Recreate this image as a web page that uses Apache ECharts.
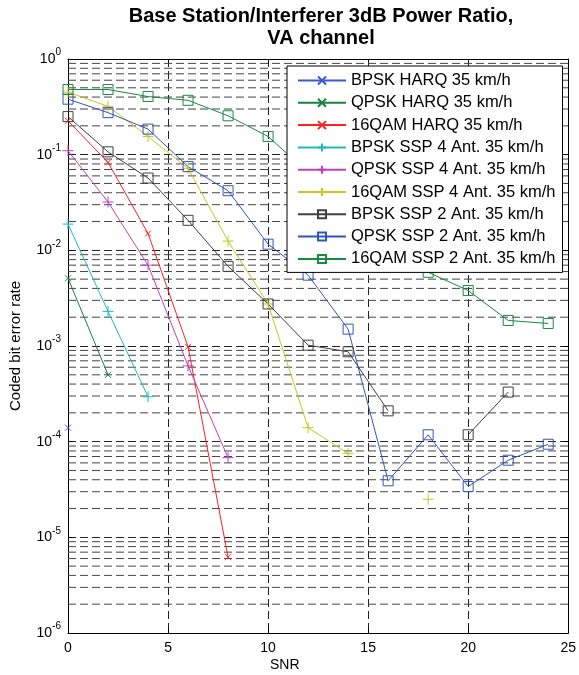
<!DOCTYPE html>
<html>
<head>
<meta charset="utf-8">
<script src="https://cdn.jsdelivr.net/npm/echarts@6/dist/echarts.min.js"></script>
<style>
html,body{margin:0;padding:0;background:#fff;}
#c{width:579px;height:675px;}
</style>
</head>
<body>
<div id="c"></div>
<script>
// ---- data ----
var snr = [0, 2, 4, 6, 8, 10, 12, 14, 16, 18, 20, 22, 24];
var bpskHarq  = [1.4e-4];
var qpskHarq  = [5.1e-3, 5.0e-4];
var qam16Harq = [0.226, 0.083, 0.015, 9.8e-4, 6.2e-6];
var bpskSsp4  = [0.0188, 2.3e-3, 2.95e-4];
var qpskSsp4  = [0.11, 0.032, 7.0e-3, 6.2e-4, 6.8e-5];
var qam16Ssp4 = [0.45, 0.32, 0.155, 0.072, 0.0125, 2.75e-3, 1.4e-4, 7.5e-5, null, 2.5e-5];
var bpskSsp2  = [0.25, 0.107, 0.057, 0.0206, 6.8e-3, 2.75e-3, 1.02e-3, 8.7e-4, 2.1e-4, null, 1.18e-4, 3.3e-4];
var qpskSsp2  = [0.38, 0.275, 0.185, 0.075, 0.042, 0.0116, 5.5e-3, 1.5e-3, 3.9e-5, 1.18e-4, 3.4e-5, 6.4e-5, 9.4e-5];
var qam16Ssp2 = [0.48, 0.48, 0.405, 0.37, 0.255, 0.155, 0.065, 0.03, 0.013, 5.9e-3, 3.8e-3, 1.85e-3, 1.72e-3];
var seriesNames = ['BPSK HARQ 35 km/h','QPSK HARQ 35 km/h','16QAM HARQ 35 km/h',
  'BPSK SSP 4 Ant. 35 km/h','QPSK SSP 4 Ant. 35 km/h','16QAM SSP 4 Ant. 35 km/h',
  'BPSK SSP 2 Ant. 35 km/h','QPSK SSP 2 Ant. 35 km/h','16QAM SSP 2 Ant. 35 km/h'];
var xTicks = [0, 5, 10, 15, 20, 25];
var xRange = [0, 25];
var minorMultipliers = [2, 3, 4, 5, 6, 7, 8, 9];
var decades = [-6, -5, -4, -3, -2, -1];

// ---- styles ----
var CROSS = 'path://M0,0L10,10M10,0L0,10';
var PLUS = 'path://M5,0L5,10M0,5L10,5';
var styles = [
  {c:'#3a5ad0', s:CROSS, z:6},
  {c:'#1a8040', s:CROSS, z:6},
  {c:'#ff2020', s:CROSS, z:6},
  {c:'#20bcbc', s:PLUS, z:11},
  {c:'#c040c0', s:PLUS, z:11},
  {c:'#c8c820', s:PLUS, z:11},
  {c:'#404040', s:'rect', z:10},
  {c:'#3355bb', s:'rect', z:10},
  {c:'#1a8a40', s:'rect', z:10}
];
var allData = [bpskHarq, qpskHarq, qam16Harq, bpskSsp4, qpskSsp4, qam16Ssp4, bpskSsp2, qpskSsp2, qam16Ssp2];

function pairs(arr){
  return arr.map(function(v,i){ return [snr[i], v == null ? '-' : v]; });
}

var series = [];
// minor grid lines (log decades 2..9) as thin dashed helper lines
decades.forEach(function(d){
  minorMultipliers.forEach(function(m){
    var v = m * Math.pow(10, d);
    series.push({
      name: 'minor', type: 'line', silent: true, showSymbol: false, symbol: 'none',
      data: [[xRange[0], v], [xRange[1], v]],
      lineStyle: {color: '#444', width: 1, type: [8, 4]},
      emphasis: {disabled: true}, animation: false, z: 1, clip: true
    });
  });
});

allData.forEach(function(arr, k){
  var st = styles[k];
  series.push({
    name: seriesNames[k],
    type: 'line',
    data: pairs(arr),
    connectNulls: false,
    symbol: st.s,
    symbolSize: st.z,
    showSymbol: true,
    symbolKeepAspect: true,
    lineStyle: {color: st.c, width: 1},
    itemStyle: {color: 'rgba(0,0,0,0)', borderColor: st.c, borderWidth: 1},
    emphasis: {disabled: true},
    animation: false,
    z: 2
  });
});

var FONT = 'Liberation Sans, Arial, sans-serif';
var chart = echarts.init(document.getElementById('c'), null, {renderer: 'canvas'});
chart.setOption({
  backgroundColor: '#fff',
  animation: false,
  textStyle: {fontFamily: FONT},
  title: {
    text: 'Base Station/Interferer 3dB Power Ratio,\nVA channel',
    left: 316, top: 0, textAlign: 'center',
    textStyle: {fontSize: 20, fontWeight: 'bold', color: '#000', lineHeight: 22, fontFamily: FONT}
  },
  grid: {left: 66, right: 8, top: 59, bottom: 42, containLabel: false},
  legend: {
    data: seriesNames,
    orient: 'vertical',
    left: 287, top: 66,
    padding: [6, 7, 5, 10],
    itemWidth: 48, itemHeight: 10, itemGap: 5.3,
    backgroundColor: '#fff',
    borderColor: '#000', borderWidth: 1,
    selectedMode: false,
    z: 20,
    textStyle: {fontSize: 16.5, color: '#000', fontFamily: FONT}
  },
  xAxis: [{
    type: 'value', min: xRange[0], max: xRange[1], interval: 5,
    axisLine: {show: true, onZero: false, lineStyle: {color: '#000', width: 1}},
    axisTick: {show: true, inside: true, length: 5, lineStyle: {color: '#000'}},
    axisLabel: {color: '#000', fontSize: 14, margin: 8, customValues: xTicks},
    splitLine: {show: true, lineStyle: {color: '#222', width: 1, type: [8, 4]}}
  }, {
    type: 'value', min: xRange[0], max: xRange[1], interval: 5, position: 'top',
    axisLine: {show: true, onZero: false, lineStyle: {color: '#000', width: 1}},
    axisTick: {show: true, inside: true, length: 5, lineStyle: {color: '#000'}},
    axisLabel: {show: false},
    splitLine: {show: false}
  }],
  yAxis: [{
    type: 'log', logBase: 10, min: 1e-6, max: 1, interval: 1,
    name: 'Coded bit error rate', nameLocation: 'middle', nameGap: 45,
    nameTextStyle: {fontSize: 15, color: '#000'},
    axisLine: {show: true, onZero: false, lineStyle: {color: '#000', width: 1}},
    axisTick: {show: true, inside: true, length: 5, lineStyle: {color: '#000'}},
    axisLabel: {
      margin: 7,
      formatter: function(v){
        var e = Math.round(Math.log(v) / Math.LN10);
        return '{b|10}{s|' + e + '}';
      },
      rich: {
        b: {fontSize: 14, color: '#000'},
        s: {fontSize: 10, color: '#000', padding: [0, 0, 13, 0]}
      }
    },
    splitLine: {show: true, lineStyle: {color: '#222', width: 1, type: [8, 4]}}
  }, {
    type: 'log', logBase: 10, min: 1e-6, max: 1, interval: 1, position: 'right',
    axisLine: {show: true, onZero: false, lineStyle: {color: '#000', width: 1}},
    axisTick: {show: true, inside: true, length: 5, lineStyle: {color: '#000'}},
    axisLabel: {show: false},
    splitLine: {show: false}
  }],
  graphic: [{
    type: 'text', left: 285 - 15, top: 658,
    style: {text: 'SNR', fontSize: 14, fill: '#000', fontFamily: FONT}
  }],
  series: series
});
</script>
</body>
</html>
